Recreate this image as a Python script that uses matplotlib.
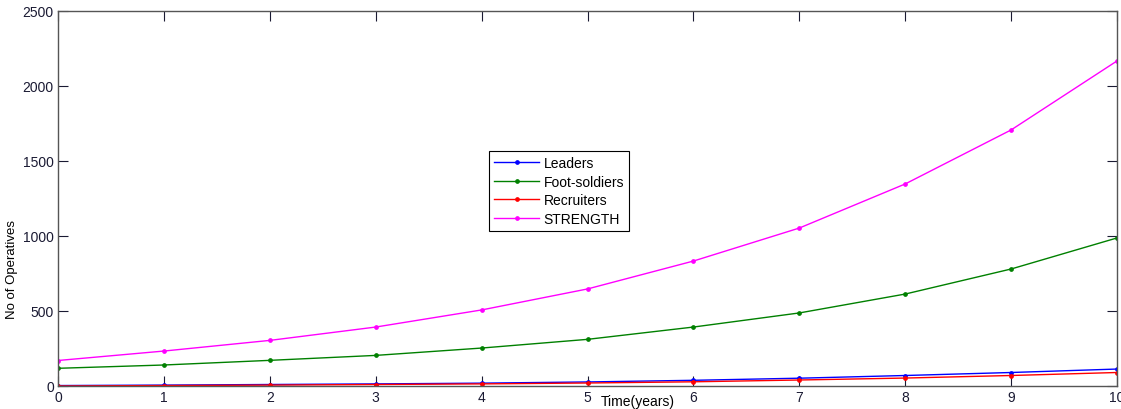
import matplotlib
matplotlib.use("Agg")
import matplotlib.pyplot as plt

plt.rcParams['font.family'] = ['Liberation Sans', 'DejaVu Sans']

years = [0, 1, 2, 3, 4, 5, 6, 7, 8, 9, 10]
leaders = [3, 6, 10, 14, 19, 27, 38, 52, 70, 90, 113]
foot_soldiers = [118, 140, 171, 204, 253, 311, 393, 487, 613, 780, 987]
recruiters = [0, 3, 6, 10, 14, 20, 28, 40, 53, 70, 90]
strength = [170, 233, 304, 393, 507, 647, 833, 1053, 1347, 1707, 2167]

series = [
    ("Leaders", leaders, "#0000ff"),
    ("Foot-soldiers", foot_soldiers, "#008000"),
    ("Recruiters", recruiters, "#ff0000"),
    ("STRENGTH", strength, "#ff00ff"),
]

fig = plt.figure(figsize=(11.21, 4.10), dpi=100)
ax = fig.add_axes([58/1121, 1 - 387/410, (1117-58)/1121, (387-12)/410])

for name, vals, col in series:
    ax.plot(years, vals, color=col, lw=1.0, marker='o', markersize=2.4, label=name)

ax.set_xlim(0, 10)
ax.set_ylim(0, 2500)
ax.set_xticks(range(0, 11))
ax.set_yticks([0, 500, 1000, 1500, 2000, 2500])
ax.tick_params(direction='in', length=7, width=0.8, top=True, right=True,
               labelsize=10, colors='#1a1a33', pad=3)
for s in ax.spines.values():
    s.set_color('#555555')
    s.set_linewidth(1.0)

ax.set_xlabel("Time(years)", fontsize=10)
ax.xaxis.set_label_coords(0.547, -0.04)
ax.xaxis.label.set_verticalalignment('center')
ax.set_ylabel("No of Operatives", fontsize=9.5)
ax.yaxis.set_label_coords(-0.038, 0.312)

leg = ax.legend(loc='center', bbox_to_anchor=(0.473, 0.52), fontsize=10,
                fancybox=False, edgecolor='black', framealpha=1,
                handlelength=3.3, borderpad=0.35, labelspacing=0.32,
                handletextpad=0.3, borderaxespad=0)
leg.get_frame().set_linewidth(0.8)

fig.savefig("out.png", dpi=100)
